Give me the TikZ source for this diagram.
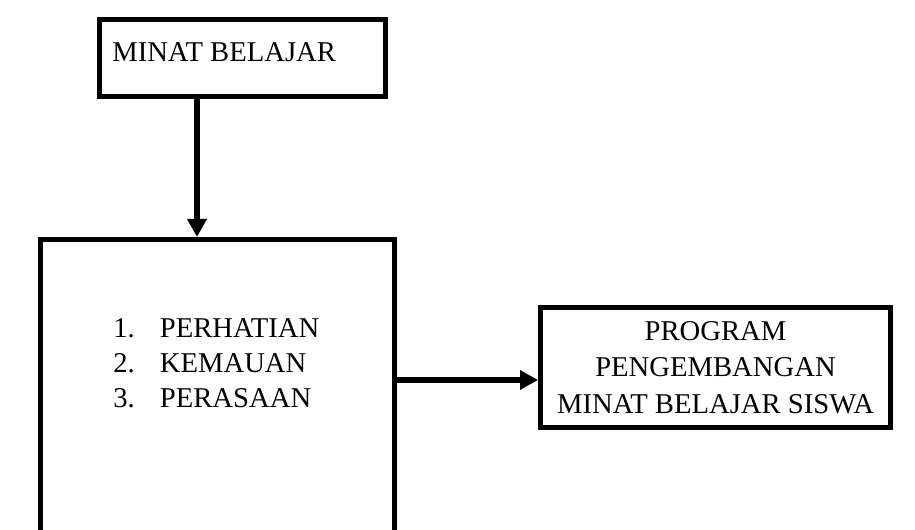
\documentclass[tikz,border=0pt]{standalone}
\usepackage{fontspec}
\setmainfont{Liberation Serif}
\usetikzlibrary{arrows.meta}

\tikzset{
  kotak/.style={draw, line width=3.75pt, inner sep=0pt, anchor=north west},
  panah/.style={line width=4.5pt, -{Triangle[length=13.5pt,width=14pt]}},
  teks/.style={inner sep=0pt, font=\fontsize{21.5pt}{27.5pt}\selectfont}
}

\begin{document}
\begin{tikzpicture}[x=0.75pt,y=0.75pt,yscale=-1,xscale=1]
\useasboundingbox (0,0) rectangle (915,530);
\clip (0,0) rectangle (915,530);

%Shape: Rectangle [id:minat]
\node [kotak, minimum width=214.5pt, minimum height=57.75pt] (minat) at (97,17) {};
%Shape: Rectangle [id:aspek] (bottom runs off the page)
\node [kotak, minimum width=265.5pt, minimum height=250pt] (aspek) at (38,237) {};
%Shape: Rectangle [id:program]
\node [kotak, minimum width=262.5pt, minimum height=90pt] (program) at (538,305) {};

% Text Node
\node [teks, anchor=base west] (judul) at (112,62) {MINAT BELAJAR};
% Text Node
\foreach \no/\isi [count=\i] in {1/PERHATIAN, 2/KEMAUAN, 3/PERASAAN}
  \node [teks, anchor=base west] (butir\i) at (113,{338+35*(\i-1)}) {\makebox[35pt][l]{\no.}\isi};
% Text Node
\node [teks, align=center] (isiprogram) at (program.center) {PROGRAM\\PENGEMBANGAN\\MINAT BELAJAR SISWA};

\coordinate (turunawal) at ([xshift=75pt]minat.south west);
\coordinate (kananawal) at ([yshift=107.25pt]aspek.north east);
%Straight Lines [id:turun]
\draw [panah] (turunawal) -- (turunawal |- aspek.north);
%Straight Lines [id:kanan]
\draw [panah] (kananawal) -- (program.west |- kananawal);

\end{tikzpicture}
\end{document}
